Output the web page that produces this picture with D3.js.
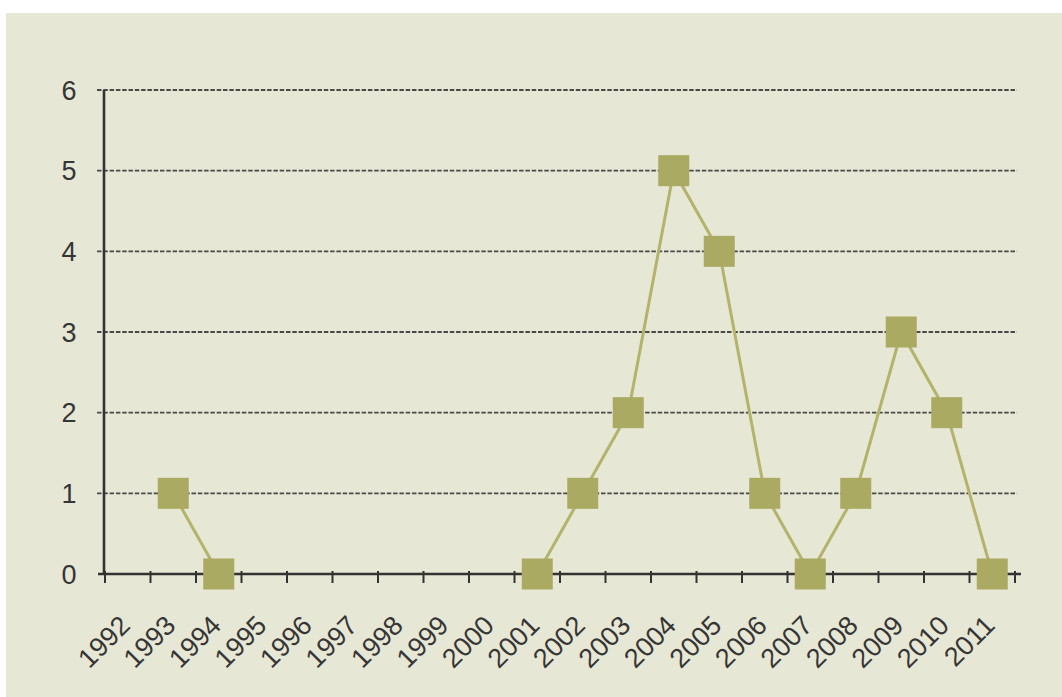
<!DOCTYPE html>
<html>
<head>
<meta charset="utf-8">
<script src="https://cdn.jsdelivr.net/npm/d3@7"></script>
<style>
  html, body { margin: 0; padding: 0; background: #ffffff; }
  svg { display: block; }
  text { font-family: Arial, "Liberation Sans", sans-serif; fill: #363636; }
</style>
</head>
<body>
<svg id="chart" width="1062" height="697"></svg>
<script>
// Yearly counts; null marks years with no recorded value
const years = ["1992","1993","1994","1995","1996","1997","1998","1999","2000","2001",
               "2002","2003","2004","2005","2006","2007","2008","2009","2010","2011"];
const counts = [null, 1, 0, null, null, null, null, null, null, 0,
                1, 2, 5, 4, 1, 0, 1, 3, 2, 0];
const yTicks = [0, 1, 2, 3, 4, 5, 6];

const svg = d3.select("#chart");
const W = 1062, H = 697;

// panel background
svg.append("rect")
  .attr("x", 6).attr("y", 13)
  .attr("width", W - 6).attr("height", H - 13)
  .attr("fill", "#e7e7d5");

const x = d3.scaleBand().domain(years).range([105, 1015]).padding(0);
const y = d3.scaleLinear().domain([0, 6]).range([574, 90]);
const bw = x.bandwidth();

// dashed horizontal gridlines
svg.append("g")
  .selectAll("line")
  .data(yTicks.filter(d => d > 0))
  .join("line")
  .attr("x1", 97).attr("x2", 1017)
  .attr("y1", d => y(d)).attr("y2", d => y(d))
  .attr("stroke", "#4a4a4a")
  .attr("stroke-width", 1.9)
  .attr("stroke-dasharray", "4.5,1.8");

// y-axis labels
svg.append("g")
  .selectAll("text")
  .data(yTicks)
  .join("text")
  .attr("x", 69)
  .attr("y", d => y(d))
  .attr("dy", "0.36em")
  .attr("text-anchor", "middle")
  .attr("font-size", 27)
  .text(d => d);

// y-axis line
svg.append("line")
  .attr("x1", 104).attr("x2", 104)
  .attr("y1", y(6)).attr("y2", y(0) + 1)
  .attr("stroke", "#333").attr("stroke-width", 2.6);

// x-axis line
svg.append("line")
  .attr("x1", 98).attr("x2", 1021)
  .attr("y1", y(0)).attr("y2", y(0))
  .attr("stroke", "#333").attr("stroke-width", 2.6);

// tick marks at category boundaries
const edges = years.map(d => x(d)).concat([x(years[years.length - 1]) + bw]);
svg.append("g")
  .selectAll("line")
  .data(edges)
  .join("line")
  .attr("x1", d => d).attr("x2", d => d)
  .attr("y1", y(0) - 3).attr("y2", y(0) + 9)
  .attr("stroke", "#333").attr("stroke-width", 2);

// rotated year labels
svg.append("g")
  .selectAll("text")
  .data(years)
  .join("text")
  .attr("transform", d => `translate(${x(d) + bw / 2 + 4},${627}) rotate(-45)`)
  .attr("text-anchor", "end")
  .attr("font-size", 27)
  .text(d => d);

// data line, broken where values are missing
const pts = years.map((d, i) => ({ year: d, v: counts[i] }));
const line = d3.line()
  .defined(d => d.v !== null)
  .x(d => x(d.year) + bw / 2)
  .y(d => y(d.v));

svg.append("path")
  .datum(pts)
  .attr("d", line)
  .attr("fill", "none")
  .attr("stroke", "#b3b36b")
  .attr("stroke-width", 3);

// square markers
const ms = 31;
svg.append("g")
  .selectAll("rect")
  .data(pts.filter(d => d.v !== null))
  .join("rect")
  .attr("x", d => x(d.year) + bw / 2 - ms / 2)
  .attr("y", d => y(d.v) - ms / 2)
  .attr("width", ms).attr("height", ms)
  .attr("fill", "#aaaa63");
</script>
</body>
</html>
